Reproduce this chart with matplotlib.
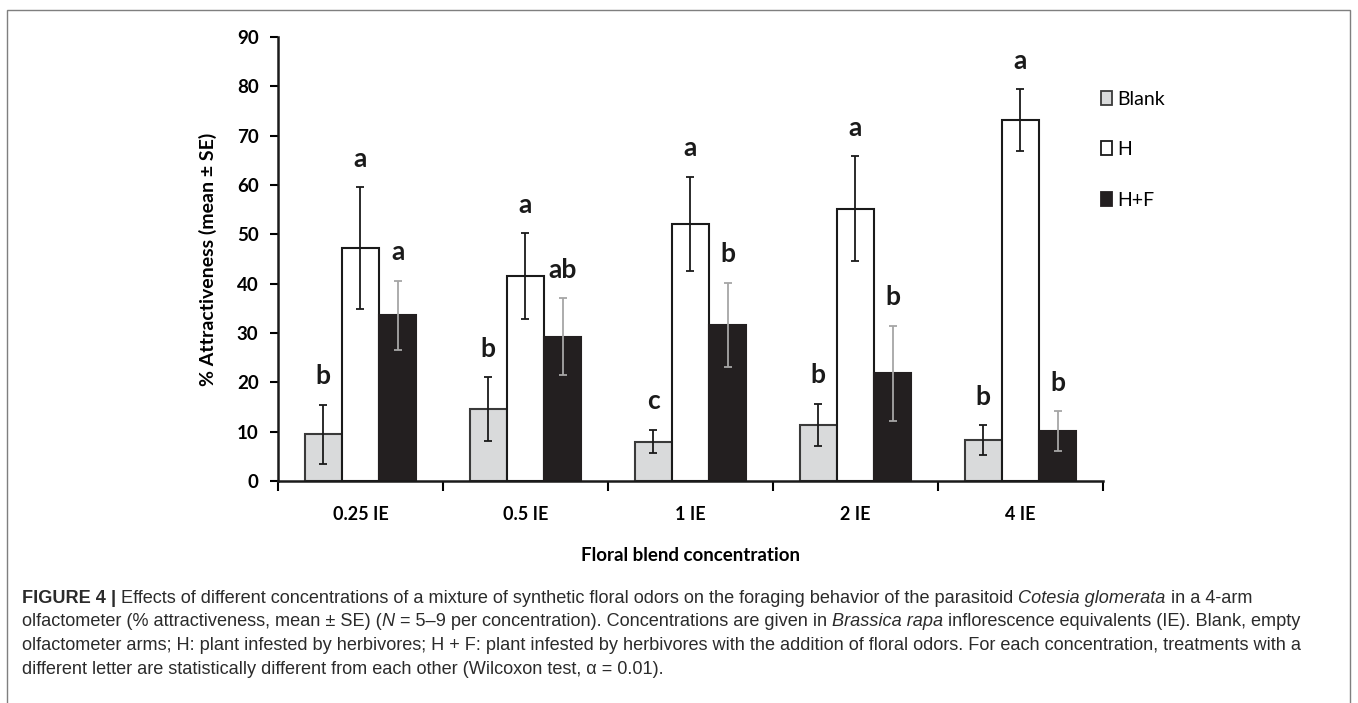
import matplotlib
matplotlib.use("Agg")
import matplotlib.pyplot as plt
import numpy as np
from matplotlib.patches import Rectangle

plt.rcParams['font.family'] = ['Lato', 'DejaVu Sans']

# data
conc = ["0.25 IE", "0.5 IE", "1 IE", "2 IE", "4 IE"]
groups = ["Blank", "H", "H+F"]
blank = [9.5, 14.6, 8.0, 11.4, 8.3]
blank_se = [6.0, 6.4, 2.4, 4.3, 3.0]
h = [47.2, 41.5, 52.1, 55.2, 73.1]
h_se = [12.3, 8.7, 9.5, 10.6, 6.3]
hf = [33.6, 29.2, 31.7, 21.8, 10.1]
hf_se = [7.0, 7.8, 8.5, 9.7, 4.0]
blank_let = ["b", "b", "c", "b", "b"]
h_let = ["a", "a", "a", "a", "a"]
hf_let = ["a", "ab", "b", "b", "b"]

fig = plt.figure(figsize=(13.58, 7.03), dpi=100)
ax = fig.add_axes([0.2047, 0.3158, 0.6075, 0.6316])

x = np.arange(len(conc))
w = 0.225
series = [
    (blank, blank_se, blank_let, -w, "#d9dadb", "#3a3a3a", "#1a1a1a"),
    (h, h_se, h_let, 0, "white", "#1a1a1a", "#1a1a1a"),
    (hf, hf_se, hf_let, w, "#231f20", "#231f20", "#a6a6a6"),
]
for (vals, se, lets, off, fc, ec, errc), name in zip(series, groups):
    ax.bar(x + off, vals, w, color=fc, edgecolor=ec, linewidth=1.5, label=name, zorder=2)
    ax.errorbar(x + off, vals, yerr=se, fmt="none", ecolor=errc, elinewidth=1.3,
                capsize=3, capthick=1.3, zorder=3)
    for xi, v, s, l in zip(x + off, vals, se, lets):
        ax.text(xi, v + s + 5.8, l, ha="center", va="center", fontsize=19,
                fontweight="bold", color="#1a1a1a")

ax.set_xlim(-0.5, len(conc) - 0.5)
ax.set_ylim(0, 90)
ax.set_yticks(np.arange(0, 91, 10))
ax.set_xticks(x)
ax.set_xticklabels(conc, fontsize=13, fontweight="bold")
ax.set_xticks(np.arange(-0.5, len(conc)), minor=True)
ax.tick_params(axis="x", which="major", length=0, pad=18)
ax.tick_params(axis="x", which="minor", length=7, width=1.5)
ax.tick_params(axis="y", length=6, width=1.5, labelsize=13.5, pad=8)
for t in ax.get_yticklabels():
    t.set_fontweight("bold")
for s in ["top", "right"]:
    ax.spines[s].set_visible(False)
for s in ["left", "bottom"]:
    ax.spines[s].set_linewidth(1.8)
    ax.spines[s].set_color("#1a1a1a")

ax.set_ylabel("% Attractiveness (mean ± SE)", fontsize=14, fontweight="bold", labelpad=14)
ax.set_xlabel("Floral blend concentration", fontsize=13.5, fontweight="bold", labelpad=17)

handles = [
    Rectangle((0, 0), 1, 1, facecolor="#d9dadb", edgecolor="#3a3a3a", linewidth=1.3),
    Rectangle((0, 0), 1, 1, facecolor="white", edgecolor="#1a1a1a", linewidth=1.3),
    Rectangle((0, 0), 1, 1, facecolor="#231f20", edgecolor="#231f20", linewidth=1.3),
]
leg = fig.legend(handles, groups, loc="upper left", bbox_to_anchor=(0.798, 0.896),
                 frameon=False, fontsize=14, handlelength=0.55, handleheight=0.75,
                 handletextpad=0.3, labelspacing=1.72)

# frame around figure + caption
fig.add_artist(Rectangle((7 / 1358, -0.01), 1343 / 1358, 1 - 10 / 703 + 0.01,
                         transform=fig.transFigure, fill=False,
                         edgecolor="#7f7f7f", linewidth=1.0))

# caption, built piece by piece
cap_font = ['Liberation Sans', 'DejaVu Sans']
cap_size = 13.05
lines = [
    [("FIGURE 4", "bold", "normal"), (" | ", "bold", "normal"),
     ("Effects of different concentrations of a mixture of synthetic floral odors on the foraging behavior of the parasitoid ", "normal", "normal"),
     ("Cotesia glomerata", "normal", "italic"), (" in a 4-arm", "normal", "normal")],
    [("olfactometer (% attractiveness, mean ± SE) (", "normal", "normal"), ("N", "normal", "italic"),
     (" = 5–9 per concentration). Concentrations are given in ", "normal", "normal"),
     ("Brassica rapa", "normal", "italic"),
     (" inflorescence equivalents (IE). Blank, empty", "normal", "normal")],
    [("olfactometer arms; H: plant infested by herbivores; H + F: plant infested by herbivores with the addition of floral odors. For each concentration, treatments with a", "normal", "normal")],
    [("different letter are statistically different from each other (Wilcoxon test, α = 0.01).", "normal", "normal")],
]
fig.canvas.draw()
r = fig.canvas.get_renderer()
y0 = 603
for line in lines:
    xpix = 22
    for txt, wt, st in line:
        t = fig.text(xpix / 1358, 1 - y0 / 703, txt, fontsize=cap_size, fontweight=wt,
                     fontstyle=st, family=cap_font, color="#2b2b2b", ha="left",
                     va="baseline")
        bb = t.get_window_extent(renderer=r)
        xpix += bb.width
    y0 += 23.5

fig.savefig("out.png", dpi=100)
